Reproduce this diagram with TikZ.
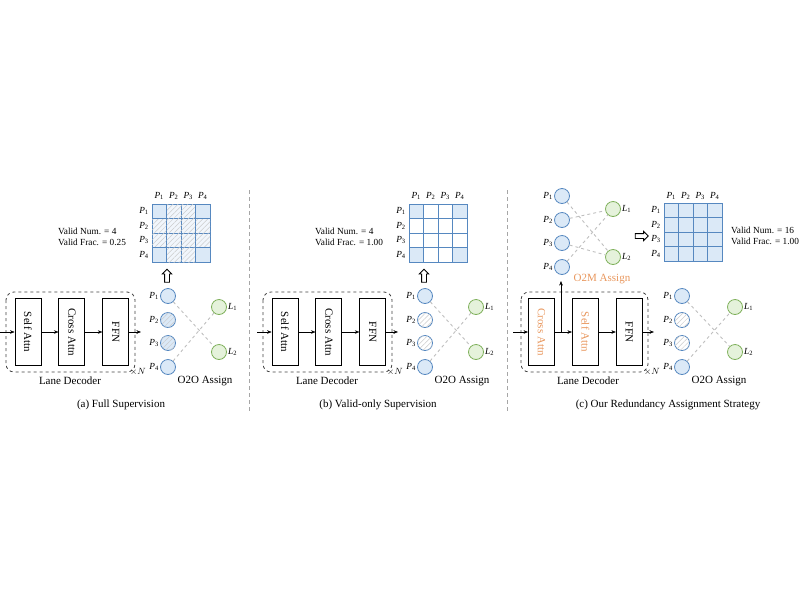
\documentclass[tikz,border=0pt]{standalone}
\usepackage{fontspec}
\setmainfont{Liberation Serif}
\usetikzlibrary{positioning, arrows.meta, shapes.arrows, patterns.meta}
\definecolor{pblue}{RGB}{86,136,192}
\definecolor{pfill}{RGB}{219,233,247}
\definecolor{lgreen}{RGB}{126,176,90}
\definecolor{lfill}{RGB}{229,242,219}
\definecolor{o2morange}{RGB}{232,150,92}
\newcommand{\Pq}[1]{\textit{P}\textsubscript{#1}}
\newcommand{\Lq}[1]{\textit{L}\textsubscript{#1}}
\tikzset{
>={Stealth[length=4.5pt,width=3.5pt]}, % arrow heads of the data flow
node distance=17pt, % gap between two layers of the decoder
layer/.style={draw, line width=0.9pt, minimum width=26pt, minimum height=67pt, inner sep=0pt, font=\fontsize{11}{11}\selectfont}, % one layer
decbox/.style={draw=black!75, dashed, line width=0.8pt, rounded corners=8pt}, % the repeated decoder
hatch/.style={postaction={pattern={Lines[angle=45,distance=3.5pt,line width=0.5pt]}, pattern color=black!20}},
pcirc/.style={circle, draw=pblue, fill=pfill, line width=0.8pt, minimum size=15pt, inner sep=0pt}, % a prediction
pdim/.style={pcirc, hatch}, % an invalid prediction, still supervised
pvoid/.style={pcirc, fill=white, hatch}, % an invalid prediction
lcirc/.style={circle, draw=lgreen, fill=lfill, line width=0.8pt, minimum size=15pt, inner sep=0pt}, % a lane
match/.style={draw=black!25, dashed, line width=0.9pt}, % an assignment
cell/.style={draw=pblue, fill=pfill, line width=0.8pt, minimum size=14.5pt, inner sep=0pt},
cellhatch/.style={cell, fill=pfill!40, hatch},
cellvoid/.style={cell, fill=white},
small/.style={font=\fontsize{9.3}{9.3}\selectfont, inner sep=1pt},
valid/.style={font=\fontsize{9.3}{9.3}\selectfont, inner sep=0pt, anchor=west},
capt/.style={font=\fontsize{11}{11}\selectfont, inner sep=0pt},
hollow/.style={single arrow, draw, line width=0.8pt, fill=white, minimum height=13pt, inner sep=2pt, single arrow head extend=2.2pt, single arrow head indent=0pt}, % a hollow arrow
sep/.style={draw=black!35, dash pattern=on 4pt off 3pt, line width=0.8pt},
}

\begin{document}
\begin{tikzpicture}[x=1pt, y=-1pt]
\useasboundingbox (0,0) rectangle (800,600);

% (a) and (b): one-to-one assignment
\foreach \dx/\nm/\vf/\pst/\cst/\capt in {0/a/0.25/pdim/cellhatch/{(a) Full Supervision}, 257/b/1.00/pvoid/cellvoid/{(b) Valid-only Supervision}}{
\begin{scope}[shift={(\dx,0)}]
  \node[layer] (\nm-sa) at (28,332) {\rotatebox{-90}{Self Attn}};
  \node[layer, right=of \nm-sa] (\nm-ca) {\rotatebox{-90}{Cross Attn}};
  \node[layer, right=of \nm-ca] (\nm-ffn) {\rotatebox{-90}{FFN}};
  \draw[decbox] (6,292) rectangle (135,372);
  \coordinate (\nm-in) at (0,332);
  \coordinate (\nm-out) at (141,332);
  \draw[->] (\nm-in) -- (\nm-sa);
  \draw[->] (\nm-sa) -- (\nm-ca);
  \draw[->] (\nm-ca) -- (\nm-ffn);
  \draw[->] (\nm-ffn) -- (\nm-out);
  \node[small] at (138,372) {$\times N$};
  \node[capt] at (70,381) {Lane Decoder};

  \foreach \i/\y/\s in {1/296/pcirc, 2/320/\pst, 3/343/\pst, 4/367/pcirc}
    \node[\s, label={[small, label distance=0pt]left:\Pq{\i}}] (\nm-p\i) at (168,\y) {};
  \node[lcirc, label={[small, label distance=0pt]right:\Lq{1}}] (\nm-l1) at (219,307) {};
  \node[lcirc, label={[small, label distance=0pt]right:\Lq{2}}] (\nm-l2) at (219,352) {};
  \draw[match] (\nm-p1) -- (\nm-l2) (\nm-p4) -- (\nm-l1);
  \node[capt] at (205,381) {O2O Assign};

  \node[hollow, shape border rotate=90] (\nm-up) at (167,277) {};
  \foreach \r in {1,...,4}{
    \node[small] at (144,204+14.5*\r-7.25) {\Pq{\r}};
    \node[small] at (152+14.5*\r-7.25,196) {\Pq{\r}};
    \foreach \c in {1,...,4}
      \node[\cst] (\nm-g\r\c) at (152+14.5*\c-7.25,204+14.5*\r-7.25) {};
  }
  \foreach \r/\c in {1/1,1/4,4/1,4/4}
    \node[cell] at (\nm-g\r\c) {};
  \node[valid] at (58,231) {Valid Num. = 4};
  \node[valid] at (58,242) {Valid Frac. = \vf};
  \node[capt] at (121,405) {\capt};
\end{scope}
}

% (c) redundancy assignment
\node[layer, text=o2morange] (c-ca) at (541.5,332) {\rotatebox{-90}{Cross Attn}};
\node[layer, text=o2morange, right=of c-ca] (c-sa) {\rotatebox{-90}{Self Attn}};
\node[layer, right=of c-sa] (c-ffn) {\rotatebox{-90}{FFN}};
\draw[decbox] (521,292) rectangle (648,372);
\coordinate (c-in) at (513,332);
\coordinate (c-out) at (654,332);
\coordinate (c-br) at (561,332);
\coordinate (c-top) at (561,281);
\draw[->] (c-in) -- (c-ca);
\draw[->] (c-ca) -- (c-sa);
\draw[->] (c-br) -- (c-top);
\draw[->] (c-sa) -- (c-ffn);
\draw[->] (c-ffn) -- (c-out);
\node[small] at (652,372) {$\times N$};
\node[capt] at (588,381) {Lane Decoder};

\foreach \i/\y in {1/196, 2/220, 3/243, 4/267}
  \node[pcirc, label={[small, label distance=0pt]left:\Pq{\i}}] (m-p\i) at (562,\y) {};
\node[lcirc, label={[small, label distance=0pt]right:\Lq{1}}] (m-l1) at (613,209) {};
\node[lcirc, label={[small, label distance=0pt]right:\Lq{2}}] (m-l2) at (613,257) {};
\draw[match] (m-p1) -- (m-l2) (m-p2) -- (m-l1) (m-p3) -- (m-l2) (m-p4) -- (m-l1);
\node[capt, text=o2morange] at (602,279) {O2M Assign};

\node[hollow] (c-right) at (640.5,236) {};
\foreach \r in {1,...,4}{
  \node[small] at (656,203+14.5*\r-7.25) {\Pq{\r}};
  \node[small] at (664+14.5*\r-7.25,196) {\Pq{\r}};
  \foreach \c in {1,...,4}
    \node[cell] (c-g\r\c) at (664+14.5*\c-7.25,203+14.5*\r-7.25) {};
}
\node[valid] at (731,230) {Valid Num. = 16};
\node[valid] at (731,241) {Valid Frac. = 1.00};

\foreach \i/\y/\s in {1/296/pcirc, 2/320/pvoid, 3/343/pvoid, 4/367/pcirc}
  \node[\s, label={[small, label distance=0pt]left:\Pq{\i}}] (c-p\i) at (682,\y) {};
\node[lcirc, label={[small, label distance=0pt]right:\Lq{1}}] (c-l1) at (735,307) {};
\node[lcirc, label={[small, label distance=0pt]right:\Lq{2}}] (c-l2) at (735,352) {};
\draw[match] (c-p1) -- (c-l2) (c-p4) -- (c-l1);
\node[capt] at (719,381) {O2O Assign};
\node[capt] at (668,405) {(c) Our Redundancy Assignment Strategy};

% panel separators
\coordinate (s1-top) at (249,190);
\coordinate (s1-bot) at (249,412);
\coordinate (s2-top) at (507,190);
\coordinate (s2-bot) at (507,412);
\draw[sep] (s1-top) -- (s1-bot);
\draw[sep] (s2-top) -- (s2-bot);
\end{tikzpicture}
\end{document}
